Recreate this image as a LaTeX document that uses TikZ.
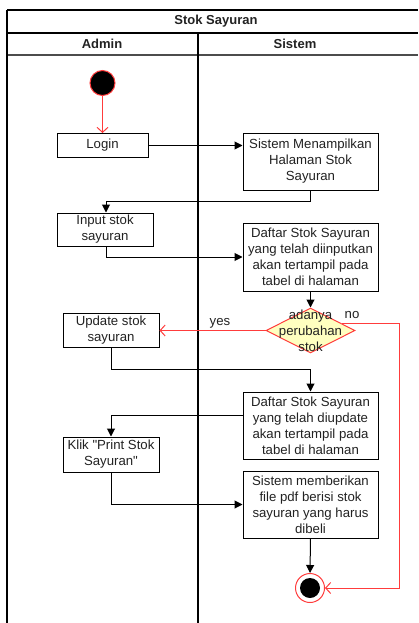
\documentclass[tikz,border=0pt]{standalone}
\usepackage{fontspec}
\setmainfont{Liberation Sans}[Ligatures=TeXOff]
\usetikzlibrary{shapes.geometric,arrows.meta,calc}
\definecolor{ared}{RGB}{255,60,60}
\definecolor{dyel}{RGB}{255,255,192}
\definecolor{txt}{RGB}{34,34,34}
\begin{document}
\begin{tikzpicture}[x=1pt,y=-1pt,
  font=\fontsize{13.2}{16}\selectfont,
  frame/.style={line width=1.3pt,draw=black},
  act/.style={draw=black,line width=1pt,fill=white,text=txt,align=center,inner sep=1pt},
  flow/.style={line width=1pt,-{Triangle[length=8pt,width=8pt]}},
  rflow/.style={line width=1pt,draw=ared,-{Straight Barb[length=5pt,width=11pt]}},
  lbl/.style={text=txt,inner sep=0pt}]
\useasboundingbox (0,0) rectangle (418,623);
% swimlane frame
\draw[frame] (7,10) -- (418,10);
\draw[frame] (7,33) -- (418,33);
\draw[frame,draw=black!70] (7,55) -- (418,55);
\draw[frame] (7,10) -- (7,623);
\draw[frame] (198,33) -- (198,623);
\node[lbl,font=\fontsize{13}{16}\selectfont\bfseries] (title) at (216,21.5) {Stok Sayuran};
\node[lbl,font=\fontsize{13}{16}\selectfont\bfseries] (hadmin) at (102,44) {Admin};
\node[lbl,font=\fontsize{13}{16}\selectfont\bfseries] (hsis) at (295,44) {Sistem};
% nodes
\node[circle,fill=black,draw=ared,line width=1pt,minimum size=25pt,inner sep=0pt] (start) at (102.5,83) {};
\node[act,minimum width=91pt,minimum height=24pt] (login) at (102.5,145.5) {Login};
\node[act,minimum width=135pt,minimum height=57pt] (sys1) at (310.5,161.5) {Sistem Menampilkan\\Halaman Stok\\Sayuran};
\node[act,minimum width=96pt,minimum height=33pt] (input) at (105,229.5) {Input stok\\sayuran};
\node[act,minimum width=135pt,minimum height=68pt] (daf1) at (310.5,257) {Daftar Stok Sayuran\\yang telah diinputkan\\akan tertampil pada\\tabel di halaman};
\node[diamond,draw=ared,fill=dyel,line width=1pt,minimum width=89pt,minimum height=45pt,inner sep=0pt] (dia) at (310.5,330.5) {};
\node[lbl,align=center] (diatext) at (310.5,331) {adanya\\perubahan\\stok};
\node[act,minimum width=96pt,minimum height=34pt] (update) at (111,330) {Update stok\\sayuran};
\node[act,minimum width=135pt,minimum height=67pt] (daf2) at (310.5,425.5) {Daftar Stok Sayuran\\yang telah diupdate\\akan tertampil pada\\tabel di halaman};
\node[act,minimum width=96pt,minimum height=35pt] (klik) at (111,454.5) {Klik "Print Stok\\Sayuran"};
\node[act,minimum width=135pt,minimum height=67pt] (sys2) at (310.5,504.5) {Sistem memberikan\\file pdf berisi stok\\sayuran yang harus\\dibeli};
\node[circle,draw=ared,line width=1pt,fill=white,minimum size=29pt,inner sep=0pt] (end) at (310,588) {};
\node[circle,fill=black,minimum size=20pt,inner sep=0pt] (endin) at (310,588) {};
% connectors
\draw[rflow] (start) -- (login);
\draw[flow] (login.east) -- (login.east -| sys1.west);
\draw[flow] (sys1.south) -- ++(0,11) -| ([xshift=1pt]input.north);
\draw[flow] ([xshift=1pt]input.south) |- (daf1.west);
\draw[flow] (daf1.south) -- (dia.north);
\draw[rflow] (dia.west) -- (dia.west -| update.east);
\node[lbl] (yes) at (220,323) {yes};
\coordinate (rc) at (399,588);
\draw[rflow] (dia.12) -- (dia.12 -| rc) -- (rc) -- (end.east);
\node[lbl] (no) at (352,315) {no};
\draw[flow] (update.south) -- ++(0,22) -| (daf2.north);
\draw[flow] ([yshift=10.5pt]daf2.west) -| (klik.north);
\draw[flow] (klik.south) |- (sys2.west);
\draw[flow] (sys2.south) -- (end.north);
\end{tikzpicture}
\end{document}
